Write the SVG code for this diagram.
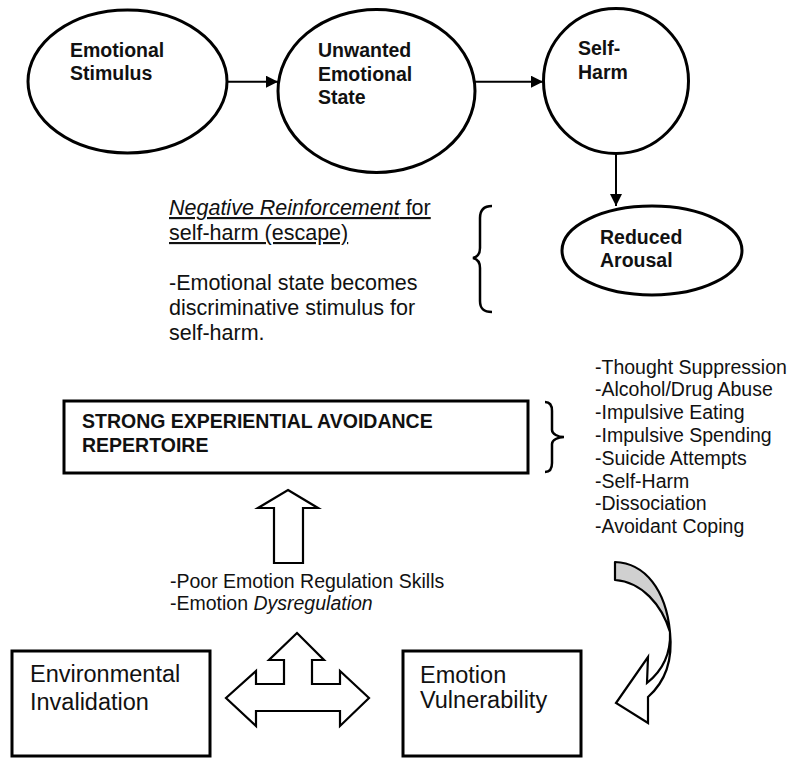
<svg xmlns="http://www.w3.org/2000/svg" width="790" height="758" viewBox="0 0 790 758">
<defs>
<style>
.node{fill:#fff;stroke:#000;stroke-width:3}
.b{font-family:"Liberation Sans",Arial,sans-serif;font-weight:bold;font-size:19.5px;fill:#111}
.r{font-family:"Liberation Sans",Arial,sans-serif;font-size:21.5px;fill:#111}
.l{font-family:"Liberation Sans",Arial,sans-serif;font-size:19.5px;fill:#111}
.big{font-family:"Liberation Sans",Arial,sans-serif;font-size:23.5px;fill:#111}
.line{stroke:#000;stroke-width:2;fill:none}
.brace{stroke:#000;stroke-width:2.5;fill:none}
.block{fill:#fff;stroke:#000;stroke-width:2.2;stroke-linejoin:miter}
</style>
<marker id="ah" viewBox="0 0 12 12" refX="12" refY="6" markerWidth="12" markerHeight="12" markerUnits="userSpaceOnUse" orient="auto">
<path d="M0,0 L12,6 L0,12 Z" fill="#000"/>
</marker>
</defs>
<rect width="790" height="758" fill="#fff"/>

<g id="emotional-stimulus">
<ellipse class="node" cx="127.5" cy="81.5" rx="99.5" ry="71.5"/>
<text class="b" x="70" y="56.5">Emotional</text>
<text class="b" x="70" y="80">Stimulus</text>
</g>

<g id="unwanted-emotional-state">
<ellipse class="node" cx="376.5" cy="91" rx="98.5" ry="81.5"/>
<text class="b" x="318" y="57">Unwanted</text>
<text class="b" x="318" y="80.5">Emotional</text>
<text class="b" x="318" y="103.5">State</text>
</g>

<g id="self-harm">
<ellipse class="node" cx="616" cy="81" rx="72.5" ry="72.5"/>
<text class="b" x="578" y="55">Self-</text>
<text class="b" x="578" y="79">Harm</text>
</g>

<g id="reduced-arousal">
<ellipse class="node" cx="652" cy="250.5" rx="90" ry="44.5"/>
<text class="b" x="600" y="243.5">Reduced</text>
<text class="b" x="600" y="267">Arousal</text>
</g>

<g id="negative-reinforcement">
<text class="r" x="169" y="215" text-decoration="underline"><tspan font-style="italic">Negative Reinforcement</tspan> for</text>
<text class="r" x="169" y="240" text-decoration="underline">self-harm (escape)</text>
<text class="r" x="169" y="290">-Emotional state becomes</text>
<text class="r" x="169" y="315">discriminative stimulus for</text>
<text class="r" x="169" y="340">self-harm.</text>
<path class="brace" d="M492,206 C484,206 480,210 480,218 L480,248 C480,254 477,257 473,258 C477,259 480,262 480,268 L480,301 C480,309 484,312 492,312"/>
</g>

<g id="avoidance-repertoire">
<rect class="node" x="64" y="401" width="464" height="72" stroke-width="3.5"/>
<text class="b" x="82" y="428.3">STRONG EXPERIENTIAL AVOIDANCE</text>
<text class="b" x="82" y="451.7">REPERTOIRE</text>
<path class="brace" d="M545,402 C550,402 552,405 552,411 L552,430 C552,434 558,437 564,437 C558,437 552,440 552,444 L552,463 C552,469 550,472 545,472"/>
</g>

<g id="avoidance-list">
<text class="l" x="595" y="373.5">-Thought Suppression</text>
<text class="l" x="595" y="396.3">-Alcohol/Drug Abuse</text>
<text class="l" x="595" y="419.1">-Impulsive Eating</text>
<text class="l" x="595" y="441.9">-Impulsive Spending</text>
<text class="l" x="595" y="464.7">-Suicide Attempts</text>
<text class="l" x="595" y="487.5">-Self-Harm</text>
<text class="l" x="595" y="510.3">-Dissociation</text>
<text class="l" x="595" y="533.1">-Avoidant Coping</text>
</g>

<g id="regulation-text">
<text class="l" x="170" y="588">-Poor Emotion Regulation Skills</text>
<text class="l" x="170" y="610">-Emotion <tspan font-style="italic">Dysregulation</tspan></text>
</g>

<g id="environmental-invalidation">
<rect class="node" x="12" y="651" width="198" height="105"/>
<text class="big" x="30" y="682">Environmental</text>
<text class="big" x="30" y="710">Invalidation</text>
</g>

<g id="emotion-vulnerability">
<rect class="node" x="403" y="651" width="178" height="105"/>
<text class="big" x="420" y="683">Emotion</text>
<text class="big" x="420" y="708">Vulnerability</text>
</g>

<g id="connectors">
<line class="line" x1="227" y1="81.7" x2="278" y2="81.7" marker-end="url(#ah)"/>
<line class="line" x1="475" y1="81.7" x2="543" y2="81.7" marker-end="url(#ah)"/>
<line class="line" x1="616" y1="153" x2="616" y2="206" marker-end="url(#ah)"/>
<polygon class="block" points="288,490 318,508 303,508 303,563 274,563 274,508 258,508"/>
<polygon class="block" points="297,633 324,660 312,660 312,684 340,684 340,671 369,698 340,726 340,711 256,711 256,726 226,698 256,671 256,684 284,684 284,660 269,660"/>
<path d="M615,562 C645,563 666,590 670,632 C662,605 642,582 615,580 Z" fill="#d0d0d0" stroke="#000" stroke-width="2.2" stroke-linejoin="round"/>
<path class="block" d="M670,632 C671,654 662,671 647,683 L648,657 L616,703 L648,723 L648,697 C665,682 673,660 670,632 Z"/>
</g>
</svg>
